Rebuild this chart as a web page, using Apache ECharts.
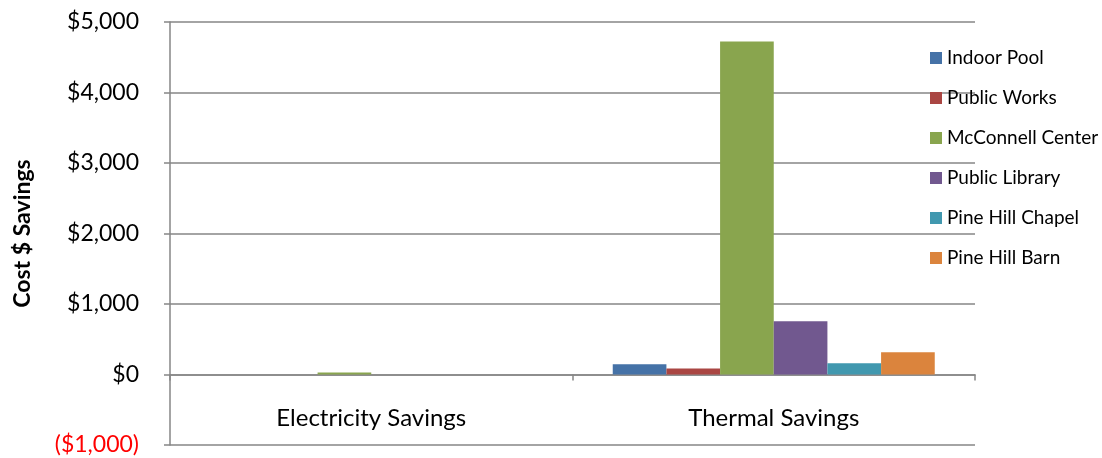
<!DOCTYPE html>
<html><head><meta charset="utf-8">
<script src="https://cdn.jsdelivr.net/npm/echarts@6/dist/echarts.min.js"></script>
<style>html,body{margin:0;padding:0;background:#fff}#c{width:1102px;height:458px}</style>
</head><body><div id="c"></div>
<script>
const categories = ['Electricity Savings', 'Thermal Savings'];
const seriesNames = ['Indoor Pool', 'Public Works', 'McConnell Center', 'Public Library', 'Pine Hill Chapel', 'Pine Hill Barn'];
const indoorPool = [0, 145];
const publicWorks = [0, 85];
const mcconnellCenter = [30, 4725];
const publicLibrary = [0, 755];
const pineHillChapel = [0, 158];
const pineHillBarn = [0, 315];
const colors = ['#4572A7', '#AA4643', '#89A54E', '#71588F', '#4198AF', '#DB843D'];
const allValues = [indoorPool, publicWorks, mcconnellCenter, publicLibrary, pineHillChapel, pineHillBarn];

const font = 'Lato, "Open Sans", sans-serif';
const chart = echarts.init(document.getElementById('c'));
chart.setOption({
  animation: false,
  textStyle: { fontFamily: font },
  grid: { left: 170, right: 127, top: 22, bottom: 13, containLabel: false, outerBoundsMode: 'none' },
  legend: {
    orient: 'vertical', left: 925, top: 41,
    icon: 'rect', itemWidth: 12, itemHeight: 12, itemGap: 16,
    textStyle: { fontSize: 19, color: '#000', fontFamily: font, lineHeight: 24 },
    data: seriesNames
  },
  xAxis: {
    type: 'category', data: categories,
    axisLine: { onZero: true, lineStyle: { color: '#868686', width: 1.5 } },
    axisTick: { show: true, length: 6, inside: false, lineStyle: { color: '#868686', width: 1.5 } },
    axisLabel: { show: true, interval: 0, hideOverlap: false, fontSize: 24, color: '#000', margin: -39, fontFamily: font },
    splitLine: { show: false }
  },
  yAxis: {
    type: 'value', min: -1000, max: 5000, interval: 1000,
    name: 'Cost $ Savings', nameLocation: 'middle', nameGap: 136, nameRotate: 90,
    nameTextStyle: { fontSize: 23, fontWeight: 'bold', color: '#000', fontFamily: font },
    axisLine: { show: true, lineStyle: { color: '#868686', width: 1.5 } },
    axisTick: { show: true, length: 6, lineStyle: { color: '#868686', width: 1.5 } },
    axisLabel: {
      fontSize: 23, color: '#000', margin: 31, fontFamily: font,
      formatter: function (v) {
        if (v < 0) return '{neg|($' + Math.abs(v).toLocaleString('en-US') + ')}';
        return '$' + v.toLocaleString('en-US');
      },
      rich: { neg: { color: '#FF0000', fontSize: 23, fontFamily: font } }
    },
    splitLine: { show: true, lineStyle: { color: '#868686', width: 1.5 } }
  },
  series: seriesNames.map((n, i) => ({
    name: n, type: 'bar', data: allValues[i],
    itemStyle: { color: colors[i] },
    barGap: '0%', barCategoryGap: '20%'
  }))
});
</script></body></html>
